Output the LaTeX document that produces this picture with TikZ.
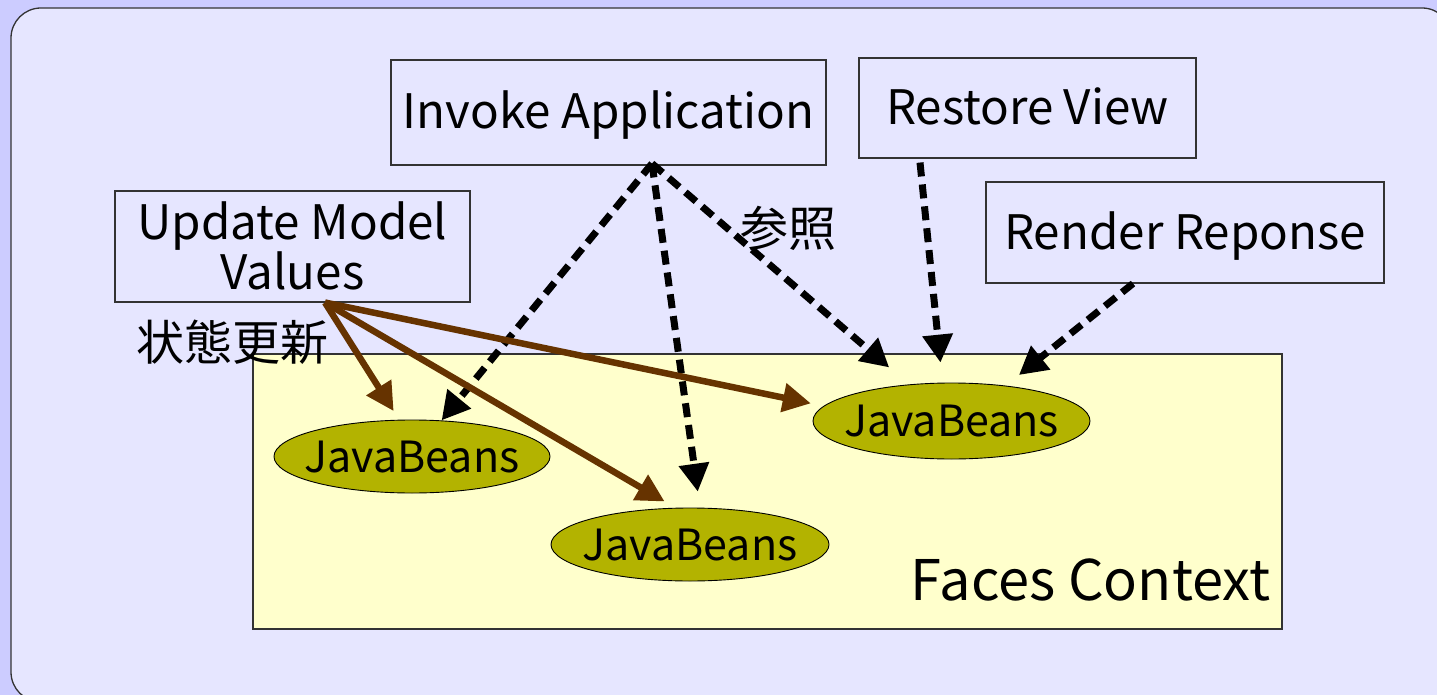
\documentclass[tikz,border=0pt]{standalone}
\usepackage{fontspec}
\setmainfont{Noto Sans CJK JP}
\usetikzlibrary{arrows.meta,shapes.geometric,calc}
\definecolor{outerbg}{HTML}{CCCCFF}
\definecolor{innerbg}{HTML}{E6E6FF}
\definecolor{ctxfill}{HTML}{FFFFCC}
\definecolor{beanfill}{HTML}{B3B300}
\definecolor{brownarr}{HTML}{663300}
\definecolor{boxline}{HTML}{333333}
\tikzset{
  phase/.style={draw=boxline,line width=1.1pt,inner sep=0pt,align=center,font=\fontsize{47.5}{50}\selectfont,text height=33pt,text depth=0pt},
  bean/.style={ellipse,draw=black,line width=0.9pt,fill=beanfill,inner xsep=-16pt,inner ysep=0pt,font=\fontsize{43}{46}\selectfont,text height=31pt,text depth=0pt},
  refarr/.style={line width=7pt,dash pattern=on 14pt off 8pt,-{Triangle[length=28pt,width=29pt]}},
  updarr/.style={line width=6.5pt,draw=brownarr,-{Triangle[length=28pt,width=28pt,fill=brownarr]}},
  lbl/.style={inner sep=0pt,font=\fontsize{48}{50}\selectfont}
}
\begin{document}
\begin{tikzpicture}[x=1pt,y=-1pt]
\useasboundingbox (0,0) rectangle (1437,695);
\clip (0,0) rectangle (1437,695);
\fill[outerbg] (0,0) rectangle (1437,695);
\draw[fill=innerbg,draw=boxline,line width=1.3pt,rounded corners=30pt] (11,8) rectangle (1452,702);

\node[draw=boxline,line width=1.2pt,fill=ctxfill,minimum width=1029pt,minimum height=275pt,inner sep=0pt] (fc) at (767.5,491.5) {};
\node[lbl,anchor=base east,font=\fontsize{56}{58}\selectfont] (fctext) at ($(fc.south east)+(-12,-29)$) {Faces Context};

\node[phase,minimum width=435pt,minimum height=105pt] (inv) at (608.5,112.5) {Invoke Application};
\node[phase,minimum width=337pt,minimum height=100pt] (rv) at (1027.5,108) {Restore View};
\node[phase,minimum width=398pt,minimum height=101pt] (rr) at (1185,232.5) {Render Reponse};
\node[phase,minimum width=355pt,minimum height=111pt,text height=86pt] (upd) at (292.5,246.5) {Update Model\\Values};

\node[bean,minimum width=276pt,minimum height=73pt] (e1) at (412,456.5) {JavaBeans};
\node[bean,minimum width=278pt,minimum height=73pt] (e2) at (690,544.5) {JavaBeans};
\node[bean,minimum width=277pt,minimum height=76pt] (e3) at (951.5,421) {JavaBeans};

\node[lbl] (sansho) at (788,228) {参照};
\node[lbl] (jotai) at (232,342) {状態更新};

\coordinate (invS) at ($(inv.south)+(43.5,-2)$);
\coordinate (rvS) at ($(rv.south)+(-107.5,4)$);
\coordinate (rrS) at ($(rr.south)+(-52,0)$);
\coordinate (updS) at ($(upd.south)+(32.5,0)$);

\draw[refarr] (invS) -- (e1);
\draw[refarr,shorten >=16pt] (invS) -- ($(e2.north)+(10,0)$);
\draw[refarr,shorten >=26pt] (invS) -- (e3);
\draw[refarr,shorten >=20pt] (rvS) -- ($(e3.north)+(-9,0)$);
\draw[refarr,shorten >=12pt] (rrS) -- ($(e3.north)+(58,0)$);

\draw[updarr,shorten >=10pt] (updS) -- ($(e1.north)+(-13,0)$);
\draw[updarr,shorten >=12pt] (updS) -- ($(e2.north)+(-15,0)$);
\draw[updarr,shorten >=13pt] (updS) -- ($(e3.west)+(11,-15)$);
\end{tikzpicture}
\end{document}
